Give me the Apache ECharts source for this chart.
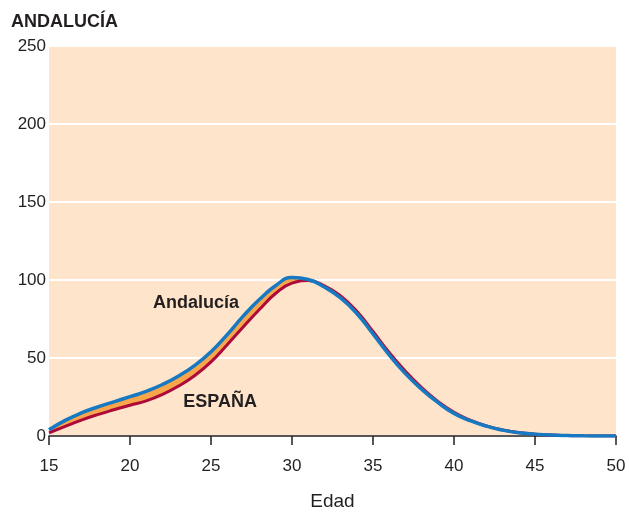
<!DOCTYPE html>
<html>
<head>
<meta charset="utf-8">
<script src="https://cdn.jsdelivr.net/npm/echarts@6/dist/echarts.min.js"></script>
<style>
html,body{margin:0;padding:0;background:#fff;}
#c{width:629px;height:512px;}
</style>
</head>
<body>
<div id="c"></div>
<script>
const ages = [15,16,17,18,19,20,21,22,23,24,25,26,27,28,29,30,31,32,33,34,35,36,37,38,39,40,41,42,43,44,45,46,47,48,49,50];
const andalucia = [4,10,14.8,18.6,21.9,25.2,28.6,33,38.5,45.3,54,65,77,87.6,96.5,101.6,100.3,95.5,88.5,78.5,65.5,52,40,30,21.5,14.5,9.8,6.3,3.8,2.1,1.2,0.6,0.3,0.1,0.05,0];
const espana = [2,6.2,10.2,13.7,16.8,19.7,22.5,26.6,32,38.8,47.5,58.5,70,81.2,91.5,98,99.6,96.3,89.8,80,67,53.5,41.5,31,22.2,15.2,10.2,6.5,3.9,2.2,1.2,0.6,0.3,0.1,0.05,0];
const yTicks = [0,50,100,150,200,250];
const xTicks = [15,20,25,30,35,40,45,50];
const title = 'ANDALUCÍA';
const xName = 'Edad';
const annotations = [
  {text:'Andalucía', age:24.07, value:85.0},
  {text:'ESPAÑA', age:25.56, value:21.6}
];

const pair = (arr) => ages.map((a,i)=>[a, arr[i]]);
const diff = ages.map((a,i)=>andalucia[i]-espana[i]);

const chart = echarts.init(document.getElementById('c'), null, {renderer:'canvas'});
const font = 'Liberation Sans, Arial, sans-serif';
chart.setOption({
  animation:false,
  backgroundColor:'#ffffff',
  title:{text:title, left:6, top:8, textStyle:{fontFamily:font, fontSize:18, fontWeight:'bold', color:'#231f20'}},
  grid:{left:49, right:13, top:46, bottom:76, show:true, backgroundColor:'#fde4ca', borderWidth:0, containLabel:false, outerBoundsMode:'none'},
  xAxis:[{type:'value', min:15, max:50, interval:5,
    name:xName, nameLocation:'middle', nameGap:56,
    nameTextStyle:{fontFamily:font, fontSize:19, color:'#231f20'},
    axisLine:{show:true, onZero:false, lineStyle:{color:'#231f20', width:1.5}},
    axisTick:{show:true, length:9, lineStyle:{color:'#231f20', width:1.5}},
    axisLabel:{margin:22, fontFamily:font, fontSize:17, color:'#231f20'},
    splitLine:{show:false}
  },{type:'category', data:ages.map(String), boundaryGap:false, show:false, position:'bottom'}],
  yAxis:{type:'value', min:0, max:250, interval:50,
    axisLine:{show:false}, axisTick:{show:false},
    axisLabel:{margin:3, fontFamily:font, fontSize:17, color:'#231f20'},
    splitLine:{show:true, lineStyle:{color:'#ffffff', width:2}}
  },
  series:[
    {type:'line', name:'base', xAxisIndex:1, data:espana, stack:'s', stackStrategy:'all', smooth:true, showSymbol:false,
      lineStyle:{width:0, opacity:0}, z:1},
    {type:'line', name:'band', xAxisIndex:1, data:diff, stack:'s', stackStrategy:'all', smooth:true, showSymbol:false,
      lineStyle:{width:0, opacity:0}, areaStyle:{color:'#f7a64b', opacity:1}, z:2},
    {type:'line', name:'ESPAÑA', data:pair(espana), smooth:true, showSymbol:false,
      lineStyle:{color:'#ad0a3a', width:3}, z:3},
    {type:'line', name:'Andalucía', data:pair(andalucia), smooth:true, showSymbol:false,
      lineStyle:{color:'#1779c1', width:3.5}, z:4,
      markPoint:{symbol:'circle', symbolSize:0, silent:true,
        label:{show:true, position:'inside', fontFamily:font, fontSize:18, fontWeight:'bold', color:'#231f20', formatter:(p)=>p.name},
        data: annotations.map(a=>({name:a.text, coord:[a.age, a.value]}))
      }
    }
  ]
});
</script>
</body>
</html>
